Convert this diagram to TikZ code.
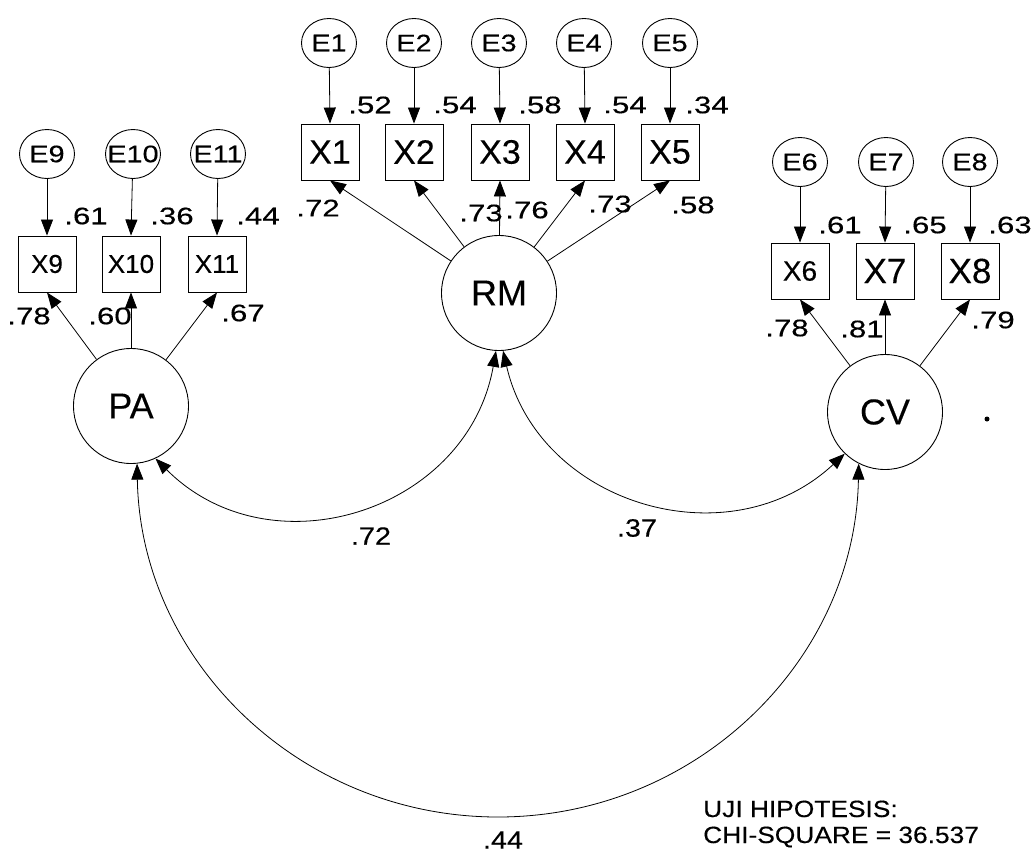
\documentclass[tikz,border=0pt]{standalone}
\usepackage{fontspec}
\setmainfont{Liberation Sans}
\newfontfamily\efont[FakeStretch=1.2,FakeBold=0.3]{Liberation Sans}
\newfontfamily\nfont[FakeStretch=1.3,FakeBold=0.3]{Liberation Sans}
\newfontfamily\cfont[FakeStretch=1.15,FakeBold=0.3]{Liberation Sans}
\newfontfamily\tfont[FakeStretch=1.12,FakeBold=0.3]{Liberation Sans}
\newfontfamily\vfont[FakeBold=0.2]{Liberation Sans}
\usetikzlibrary{arrows.meta,shapes.geometric}
\begin{document}
\begin{tikzpicture}[x=1pt,y=1pt,
  lat/.style={circle,draw,line width=0.9pt,minimum size=115pt,inner sep=0pt,font=\vfont\fontsize{36}{36}\selectfont},
  err/.style={ellipse,draw,line width=0.9pt,minimum width=55pt,minimum height=49pt,inner sep=0pt,
    font=\efont\fontsize{24}{24}\selectfont,
    execute at begin node={\hbox to 0pt\bgroup\hss},execute at end node={\hss\egroup}},
  obs/.style={rectangle,draw,line width=0.9pt,minimum width=58pt,minimum height=56pt,inner sep=0pt},
  obsA/.style={obs,font=\vfont\fontsize{34}{34}\selectfont},
  obsB/.style={obs,font=\vfont\fontsize{26}{26}\selectfont},
  obsC/.style={obs,font=\vfont\fontsize{28}{28}\selectfont},
  obsD/.style={obs,font=\vfont\fontsize{35}{35}\selectfont},
  arr/.style={-{Triangle[length=16pt,width=12pt]},line width=0.8pt},
  cov/.style={{Triangle[length=16pt,width=12pt]}-{Triangle[length=16pt,width=12pt]},line width=0.8pt},
  lbl/.style={inner sep=0pt,font=\nfont\fontsize{24}{24}\selectfont},
  clbl/.style={inner sep=0pt,font=\cfont\fontsize{25}{25}\selectfont},
  txt/.style={inner sep=0pt,anchor=base west,font=\tfont\fontsize{23.5}{23.5}\selectfont}
]
\path[fill=white,use as bounding box] (0,0) rectangle (1036,-857);

% latent variables
\node[lat] (RM) at (499,-293) {RM};
\node[lat] (PA) at (131,-406) {PA};
\node[lat] (CV) at (885,-412) {CV};

% RM block
\node[err] (E1) at (329,-43) {E1};
\node[err] (E2) at (414,-43) {E2};
\node[err] (E3) at (499,-43) {E3};
\node[err] (E4) at (584,-43) {E4};
\node[err] (E5) at (670,-43) {E5};
\node[obsA] (X1) at (330,-152) {X1};
\node[obsA] (X2) at (414,-152) {X2};
\node[obsA] (X3) at (500,-152) {X3};
\node[obsA] (X4) at (585,-152) {X4};
\node[obsA] (X5) at (670,-152) {X5};

% PA block
\node[err] (E9) at (47,-154) {E9};
\node[err] (E10) at (133,-154) {E10};
\node[err] (E11) at (218,-154) {E11};
\node[obsB] (X9) at (47,-264) {X9};
\node[obsB] (X10) at (131,-264) {X10};
\node[obsB] (X11) at (217,-264) {X11};

% CV block
\node[err] (E6) at (800,-162) {E6};
\node[err] (E7) at (886,-162) {E7};
\node[err] (E8) at (970,-162) {E8};
\node[obsC] (X6) at (800,-271) {X6};
\node[obsD] (X7) at (885,-271) {X7};
\node[obsD] (X8) at (970,-271) {X8};

% error arrows
\foreach \e/\x in {E1/X1,E2/X2,E3/X3,E4/X4,E5/X5,E9/X9,E10/X10,E11/X11,E6/X6,E7/X7,E8/X8}
  \draw[arr] (\e) -- (\x.north);

% loadings
\foreach \x in {X1,X2,X3,X4,X5} \draw[arr] (RM) -- (\x.south);
\foreach \x in {X9,X10,X11} \draw[arr] (PA) -- (\x.south);
\foreach \x in {X6,X7,X8} \draw[arr] (CV) -- (\x.south);

% covariances
\coordinate (bot) at (498,-817);
\draw[cov] (RM.-93) to[out=-100,in=-45,looseness=1.17] (PA.-65);
\draw[cov] (RM.-86) to[out=-77,in=-137,looseness=1.135] (CV.-134);
\draw[cov] (PA.-84) to[out=-89,in=180,looseness=1] (bot) to[out=0,in=-91,looseness=1] (CV.-117);

% labels: error paths
\node[lbl] (l1) at (370,-105) {.52};
\node[lbl] (l2) at (455,-105) {.54};
\node[lbl] (l3) at (540,-105) {.58};
\node[lbl] (l4) at (625,-105) {.54};
\node[lbl] (l5) at (707,-105) {.34};
\node[lbl] (l9) at (86,-216) {.61};
\node[lbl] (l10) at (172,-216) {.36};
\node[lbl] (l11) at (258,-216) {.44};
\node[lbl] (l6) at (840,-225) {.61};
\node[lbl] (l7) at (925,-225) {.65};
\node[lbl] (l8) at (1010,-225) {.63};

% labels: loadings
\node[lbl] (m1) at (318,-208) {.72};
\node[lbl] (m2) at (481,-213) {.73};
\node[lbl] (m3) at (527,-210) {.76};
\node[lbl] (m4) at (610,-204) {.73};
\node[lbl] (m5) at (693,-205) {.58};
\node[lbl] (m9) at (29,-316) {.78};
\node[lbl] (m10) at (110,-316) {.60};
\node[lbl] (m11) at (243,-313) {.67};
\node[lbl] (m6) at (787,-328) {.78};
\node[lbl] (m7) at (862,-329) {.81};
\node[lbl] (m8) at (993,-320) {.79};

% labels: covariances
\node[clbl] (c1) at (371,-536) {.72};
\node[clbl] (c2) at (637,-528) {.37};
\node[clbl] (c3) at (503,-840) {.44};

% stray dot
\node[circle,fill,inner sep=0pt,minimum size=5pt] (dot) at (987,-419) {};

% fit text
\node[txt] (t1) at (703,-817) {UJI HIPOTESIS:};
\node[txt] (t2) at (703,-843) {CHI-SQUARE = 36.537};
\end{tikzpicture}
\end{document}
